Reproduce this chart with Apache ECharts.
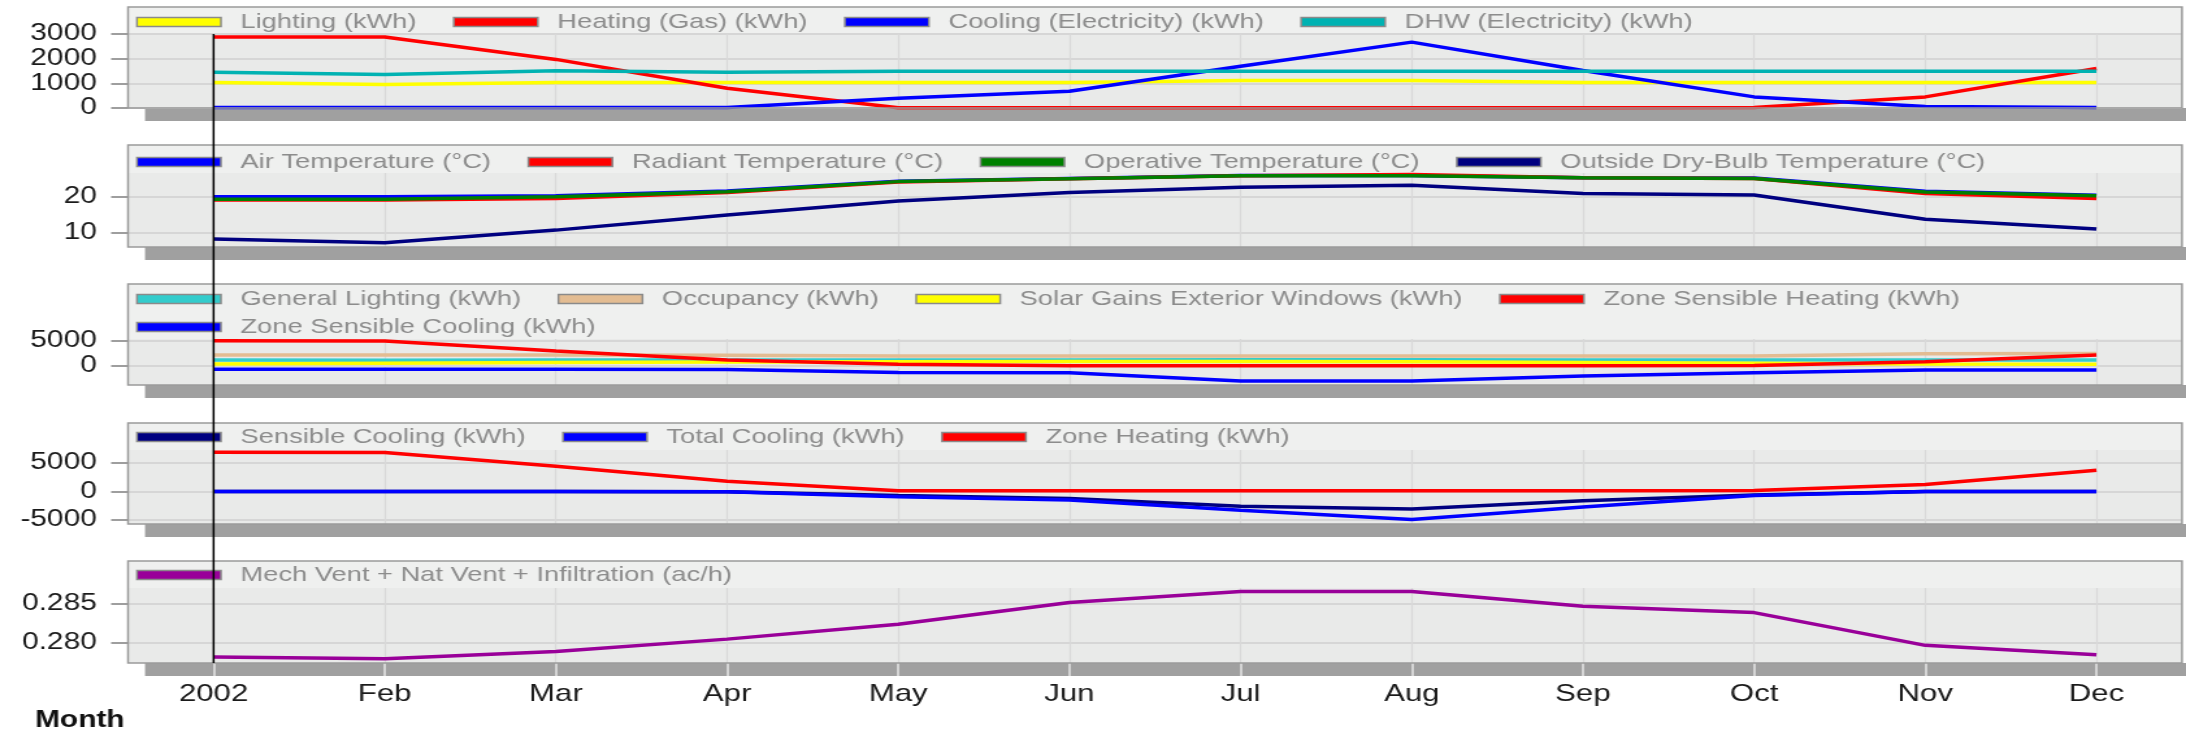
<!DOCTYPE html>
<html>
<head>
<meta charset="utf-8">
<title>Monthly results 2002</title>
<script src="https://cdn.jsdelivr.net/npm/echarts@6/dist/echarts.min.js"></script>
<style>
  html, body { margin: 0; padding: 0; background: #fff; overflow: hidden; }
  #chart { width: 1682px; height: 732px; transform-origin: 0 0; }
</style>
</head>
<body>
<div id="chart"></div>
<script>
const months = ['2002', 'Feb', 'Mar', 'Apr', 'May', 'Jun', 'Jul', 'Aug', 'Sep', 'Oct', 'Nov', 'Dec']

// panel 1 - fuel breakdown
const lighting = [1030, 950, 1030, 1030, 1030, 1030, 1110, 1110, 1030, 1030, 1030, 1030]
const heatingGas = [2880, 2880, 1970, 800, 10, 10, 10, 10, 10, 20, 450, 1600]
const coolingElec = [20, 20, 20, 20, 400, 680, 1690, 2670, 1520, 450, 60, 20]
const dhwElec = [1450, 1360, 1510, 1450, 1490, 1490, 1490, 1490, 1490, 1490, 1490, 1490]

// panel 2 - temperatures
const airTemp = [20.1, 20.1, 20.4, 21.7, 24.4, 25.2, 26.0, 26.0, 25.4, 25.3, 21.6, 20.5]
const radiantTemp = [19.2, 19.2, 19.6, 21.3, 24.2, 25.1, 25.9, 26.3, 25.4, 25.2, 21.0, 19.6]
const operativeTemp = [19.4, 19.4, 20.1, 21.5, 24.3, 25.1, 25.9, 25.9, 25.4, 25.2, 21.4, 20.4]
const outsideTemp = [8.3, 7.3, 10.8, 15.0, 18.9, 21.3, 22.7, 23.3, 21.0, 20.6, 13.8, 11.1]

// panel 3 - heat gains
const generalLighting = [1200, 1150, 1200, 1200, 1200, 1200, 1250, 1250, 1200, 1200, 1200, 1200]
const occupancy = [2200, 2200, 2200, 2150, 2000, 2000, 2000, 2000, 2000, 2000, 2450, 2500]
const solarGains = [400, 550, 700, 800, 850, 900, 900, 850, 700, 550, 400, 350]
const zoneSensHeating = [5070, 5000, 3000, 1200, 330, 60, 60, 60, 60, 80, 870, 2200]
const zoneSensCooling = [-670, -670, -670, -700, -1300, -1330, -3000, -3000, -2000, -1350, -800, -800]

// panel 4 - heating / cooling loads
const sensibleCooling = [0, 0, 0, -50, -700, -1200, -2600, -3050, -1600, -600, 0, 0]
const totalCooling = [0, 0, 0, -50, -900, -1500, -3300, -4900, -2700, -700, 0, 0]
const zoneHeating = [6890, 6850, 4440, 1810, 150, 150, 150, 150, 150, 200, 1230, 3740]

// panel 5 - air changes
const ventilation = [0.2782, 0.2780, 0.2789, 0.2805, 0.2824, 0.2852, 0.2866, 0.2866, 0.2847, 0.2839, 0.2797, 0.2785]

// y axes
const yMin = [0, 6.1, -3800, -5700, 0.27744]
const yMax = [3000, 26.7, 5400, 7300, 0.28705]
const yTicks = [[0, 1000, 2000, 3000], [10, 20], [0, 5000], [-5000, 0, 5000], [0.280, 0.285]]

const panels = [
  [['Lighting (kWh)', lighting, '#ffff00'], ['Heating (Gas) (kWh)', heatingGas, '#ff0000'],
   ['Cooling (Electricity) (kWh)', coolingElec, '#0000ff'], ['DHW (Electricity) (kWh)', dhwElec, '#00b2b2']],
  [['Air Temperature (°C)', airTemp, '#0000ff'], ['Radiant Temperature (°C)', radiantTemp, '#ff0000'],
   ['Operative Temperature (°C)', operativeTemp, '#008000'], ['Outside Dry-Bulb Temperature (°C)', outsideTemp, '#000080']],
  [['General Lighting (kWh)', generalLighting, '#33cccc'], ['Occupancy (kWh)', occupancy, '#e3bc92'],
   ['Solar Gains Exterior Windows (kWh)', solarGains, '#ffff00'], ['Zone Sensible Heating (kWh)', zoneSensHeating, '#ff0000'],
   ['Zone Sensible Cooling (kWh)', zoneSensCooling, '#0000ff']],
  [['Sensible Cooling (kWh)', sensibleCooling, '#000080'], ['Total Cooling (kWh)', totalCooling, '#0000ff'],
   ['Zone Heating (kWh)', zoneHeating, '#ff0000']],
  [['Mech Vent + Nat Vent + Infiltration (ac/h)', ventilation, '#990099']]
]

// the reference is stretched horizontally, so draw narrower and scale in x
const SX = 2186 / 1682
const px = x => x / SX
const el = document.getElementById('chart')
el.style.transform = `scaleX(${SX})`

const FONT = "'Liberation Sans', Arial, sans-serif"

// box top, plot top, plot bottom (page pixels)
const layout = [
  { boxTop: 7, top: 34, bottom: 108 },
  { boxTop: 145, top: 173, bottom: 247 },
  { boxTop: 284, top: 339, bottom: 385 },
  { boxTop: 423, top: 450, bottom: 524 },
  { boxTop: 561, top: 588, bottom: 663 }
]

const legendRows = [
  { top: 11.5, names: panels[0].map(s => s[0]) },
  { top: 151.5, names: panels[1].map(s => s[0]) },
  { top: 288.5, names: panels[2].slice(0, 4).map(s => s[0]) },
  { top: 316.5, names: panels[2].slice(4).map(s => s[0]) },
  { top: 426.5, names: panels[3].map(s => s[0]) },
  { top: 564.5, names: panels[4].map(s => s[0]) }
]

const chart = echarts.init(el)

const series = []
panels.forEach((list, i) => {
  list.forEach(([name, data, color]) => {
    series.push({
      name,
      type: 'line',
      xAxisIndex: i,
      yAxisIndex: i,
      data,
      color,
      symbol: 'none',
      itemStyle: { color },
      lineStyle: { color, width: 3.5 }
    })
  })
})

chart.setOption({
  animation: false,
  title: {
    text: 'Month',
    left: px(35),
    top: 709,
    padding: 0,
    textStyle: { fontSize: 23, fontWeight: 'bold', color: '#111', fontFamily: FONT }
  },
  legend: legendRows.map(r => ({
    data: r.names,
    left: px(136),
    top: r.top,
    padding: 0,
    itemGap: 28,
    itemWidth: px(84),
    itemHeight: 9,
    icon: 'rect',
    selectedMode: false,
    itemStyle: { borderColor: '#8a8a8a', borderWidth: 1.5 },
    textStyle: { fontSize: 21, color: '#8c8c8c', fontFamily: FONT, padding: [0, 0, 0, 10] }
  })),
  grid: layout.map(p => ({
    left: px(128),
    right: px(4),
    top: p.top,
    height: p.bottom - p.top,
    show: true,
    backgroundColor: '#e9eae9',
    borderWidth: 0
  })),
  xAxis: layout.map((p, i) => ({
    type: 'category',
    gridIndex: i,
    data: months,
    boundaryGap: true,
    axisLine: { show: false },
    axisTick: {
      show: i === 4, interval: 0, alignWithLabel: true, length: 13,
      lineStyle: { color: '#e6e6e6', width: 1.5 }
    },
    axisLabel: {
      show: i === 4, interval: 0, fontSize: 24, color: '#1a1a1a', margin: 19, fontFamily: FONT
    },
    splitLine: {
      show: true, interval: 0, alignWithLabel: true,
      lineStyle: { color: '#d9d9d9', width: 1.3 }
    }
  })),
  yAxis: layout.map((p, i) => ({
    type: 'value',
    gridIndex: i,
    min: yMin[i],
    max: yMax[i],
    axisLine: { show: false },
    axisTick: {
      show: true, length: 13, customValues: yTicks[i],
      lineStyle: { color: '#7f7f7f', width: 1.5 }
    },
    axisLabel: {
      customValues: yTicks[i],
      fontSize: 23,
      color: '#1a1a1a',
      margin: 24,
      fontFamily: FONT,
      formatter: v => i === 4 ? v.toFixed(3) : String(v)
    },
    splitLine: { show: true, lineStyle: { color: '#d6d6d6', width: 2 } }
  })),
  series
})

// panel boxes, 3D shadow bands and the cursor line at the first month
const x0 = chart.convertToPixel({ gridIndex: 0 }, [0, 0])[0]
const elements = []
layout.forEach(p => {
  elements.push({
    type: 'rect', z: -10,
    shape: { x: px(145), y: p.bottom, width: px(2186 - 145) + 5, height: 13 },
    style: { fill: '#a0a0a0' }
  })
  elements.push({
    type: 'rect', z: -10,
    shape: { x: px(128), y: p.boxTop, width: px(2182 - 128), height: p.bottom - p.boxTop },
    style: { fill: '#eff0ef' }
  })
  elements.push({
    type: 'rect', z: 5,
    shape: { x: px(128), y: p.boxTop, width: px(2182 - 128), height: p.bottom - p.boxTop },
    style: { fill: 'none', stroke: '#9a9a9a', lineWidth: 1.5 }
  })
})
elements.push({
  type: 'line', z: 10,
  shape: { x1: x0, y1: layout[0].top, x2: x0, y2: layout[4].bottom },
  style: { stroke: '#000', lineWidth: 1.5 }
})
chart.setOption({ graphic: { elements } })
</script>
</body>
</html>
